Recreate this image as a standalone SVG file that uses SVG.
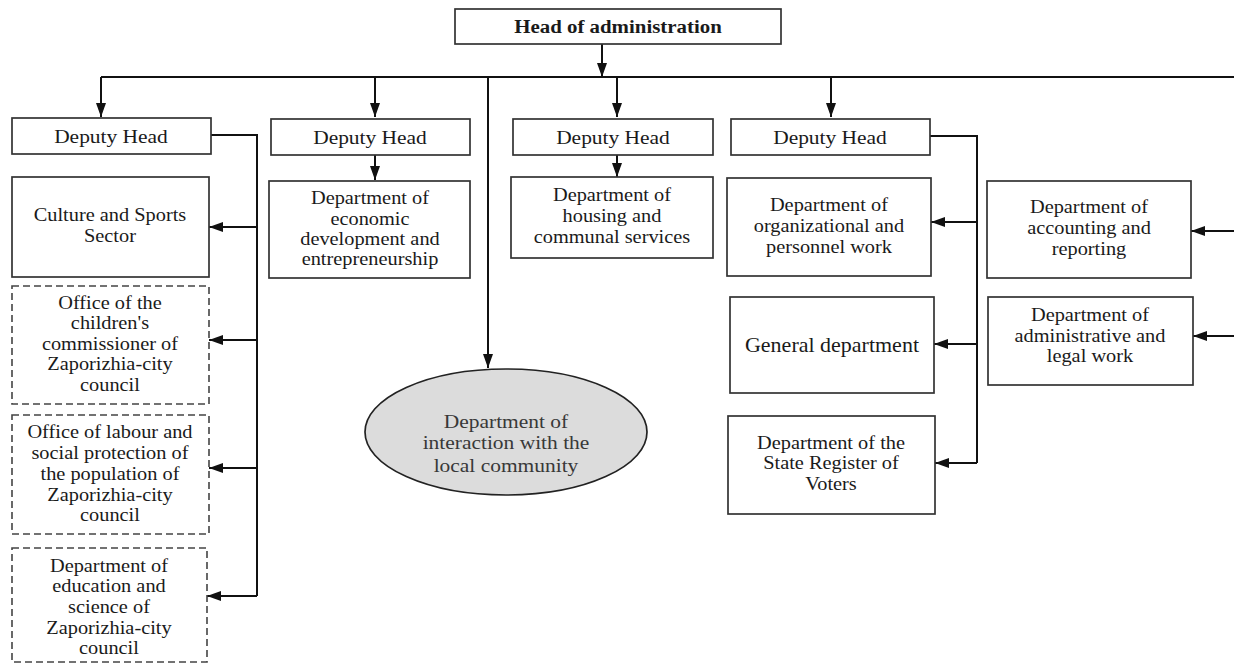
<svg xmlns="http://www.w3.org/2000/svg" width="1234" height="664" viewBox="0 0 1234 664">
<style>
.box{fill:#fff;stroke:#333;stroke-width:1.7}
.dash{fill:#fff;stroke:#444;stroke-width:1.6;stroke-dasharray:7 4}
.ell{fill:#dcdcdc;stroke:#222;stroke-width:1.7}
text{font-family:"Liberation Serif","Times New Roman",serif;text-anchor:middle;fill:#1a1a1a;transform-box:fill-box;transform-origin:center;transform:scaleX(1.1)}
.t{font-size:18.5px}
.dh{font-size:19.5px}
.hd{font-size:18px;font-weight:bold;transform:scaleX(1.16)}
.gd{font-size:20px}
.el{font-size:18.5px;fill:#383838;transform:scaleX(1.16)}
.c{fill:none;stroke:#111;stroke-width:2}
</style>
<defs>
<marker id="ah" markerUnits="userSpaceOnUse" markerWidth="14" markerHeight="10" refX="14" refY="5" orient="auto">
<path d="M0,0 L14,5 L0,10 Z" fill="#111"/>
</marker>
</defs>

<g id="connectors">
<path class="c" d="M602,44 V77" marker-end="url(#ah)"/>
<path class="c" d="M101,77 H1234"/>
<path class="c" d="M101,77 V117" marker-end="url(#ah)"/>
<path class="c" d="M375,77 V117" marker-end="url(#ah)"/>
<path class="c" d="M617,77 V117" marker-end="url(#ah)"/>
<path class="c" d="M831,77 V117" marker-end="url(#ah)"/>
<path class="c" d="M488,77 V368" marker-end="url(#ah)"/>
<path class="c" d="M375,154 V180" marker-end="url(#ah)"/>
<path class="c" d="M617,154 V177" marker-end="url(#ah)"/>
<path class="c" d="M211,135 H257 V596"/>
<path class="c" d="M257,227 H209" marker-end="url(#ah)"/>
<path class="c" d="M257,340 H209" marker-end="url(#ah)"/>
<path class="c" d="M257,468 H209" marker-end="url(#ah)"/>
<path class="c" d="M257,596 H207" marker-end="url(#ah)"/>
<path class="c" d="M930,136 H977 V463"/>
<path class="c" d="M977,222 H931" marker-end="url(#ah)"/>
<path class="c" d="M977,344 H934" marker-end="url(#ah)"/>
<path class="c" d="M977,463 H935" marker-end="url(#ah)"/>
<path class="c" d="M1234,231 H1191" marker-end="url(#ah)"/>
<path class="c" d="M1234,336 H1193" marker-end="url(#ah)"/>
</g>

<g id="head">
<rect class="box" x="455" y="9" width="326" height="35"/>
<text class="hd" x="618" y="33">Head of administration</text>
</g>

<g id="deputy1">
<rect class="box" x="12" y="118" width="199" height="36"/>
<text class="dh" x="111" y="143">Deputy Head</text>
</g>
<g id="deputy2">
<rect class="box" x="271" y="119" width="199" height="36"/>
<text class="dh" x="370" y="144">Deputy Head</text>
</g>
<g id="deputy3">
<rect class="box" x="513" y="119" width="200" height="36"/>
<text class="dh" x="613" y="144">Deputy Head</text>
</g>
<g id="deputy4">
<rect class="box" x="731" y="119" width="199" height="36"/>
<text class="dh" x="830" y="144">Deputy Head</text>
</g>

<g id="culture">
<rect class="box" x="12" y="177" width="197" height="100"/>
<text class="t" x="110" y="221">Culture and Sports</text>
<text class="t" x="110" y="242">Sector</text>
</g>
<g id="children">
<rect class="dash" x="12" y="286" width="197" height="118"/>
<text class="t" x="110" y="309">Office of the</text>
<text class="t" x="110" y="329.5">children's</text>
<text class="t" x="110" y="350">commissioner of</text>
<text class="t" x="110" y="370.5">Zaporizhia-city</text>
<text class="t" x="110" y="391">council</text>
</g>
<g id="labour">
<rect class="dash" x="12" y="415" width="197" height="119"/>
<text class="t" x="110" y="438">Office of labour and</text>
<text class="t" x="110" y="459">social protection of</text>
<text class="t" x="110" y="480">the population of</text>
<text class="t" x="110" y="501">Zaporizhia-city</text>
<text class="t" x="110" y="521">council</text>
</g>
<g id="education">
<rect class="dash" x="12" y="548" width="195" height="114"/>
<text class="t" x="109" y="572">Department of</text>
<text class="t" x="109" y="592">education and</text>
<text class="t" x="109" y="613">science of</text>
<text class="t" x="109" y="634">Zaporizhia-city</text>
<text class="t" x="109" y="654">council</text>
</g>

<g id="economic">
<rect class="box" x="269" y="181" width="201" height="97"/>
<text class="t" x="370" y="204">Department of</text>
<text class="t" x="370" y="225">economic</text>
<text class="t" x="370" y="245">development and</text>
<text class="t" x="370" y="265">entrepreneurship</text>
</g>

<g id="housing">
<rect class="box" x="511" y="177" width="202" height="81"/>
<text class="t" x="612" y="201">Department of</text>
<text class="t" x="612" y="222">housing and</text>
<text class="t" x="612" y="243">communal services</text>
</g>

<g id="community">
<ellipse class="ell" cx="506" cy="432" rx="141" ry="63"/>
<text class="el" x="506" y="428">Department of</text>
<text class="el" x="506" y="449">interaction with the</text>
<text class="el" x="506" y="472">local community</text>
</g>

<g id="organizational">
<rect class="box" x="727" y="178" width="204" height="98"/>
<text class="t" x="829" y="211">Department of</text>
<text class="t" x="829" y="232">organizational and</text>
<text class="t" x="829" y="253">personnel work</text>
</g>
<g id="general">
<rect class="box" x="730" y="297" width="204" height="96"/>
<text class="gd" x="832" y="352">General department</text>
</g>
<g id="register">
<rect class="box" x="728" y="416" width="207" height="98"/>
<text class="t" x="831" y="449">Department of the</text>
<text class="t" x="831" y="469">State Register of</text>
<text class="t" x="831" y="490">Voters</text>
</g>
<g id="accounting">
<rect class="box" x="987" y="181" width="204" height="97"/>
<text class="t" x="1089" y="213">Department of</text>
<text class="t" x="1089" y="234">accounting and</text>
<text class="t" x="1089" y="255">reporting</text>
</g>
<g id="administrative">
<rect class="box" x="988" y="297" width="205" height="88"/>
<text class="t" x="1090" y="321">Department of</text>
<text class="t" x="1090" y="342">administrative and</text>
<text class="t" x="1090" y="362">legal work</text>
</g>
</svg>
